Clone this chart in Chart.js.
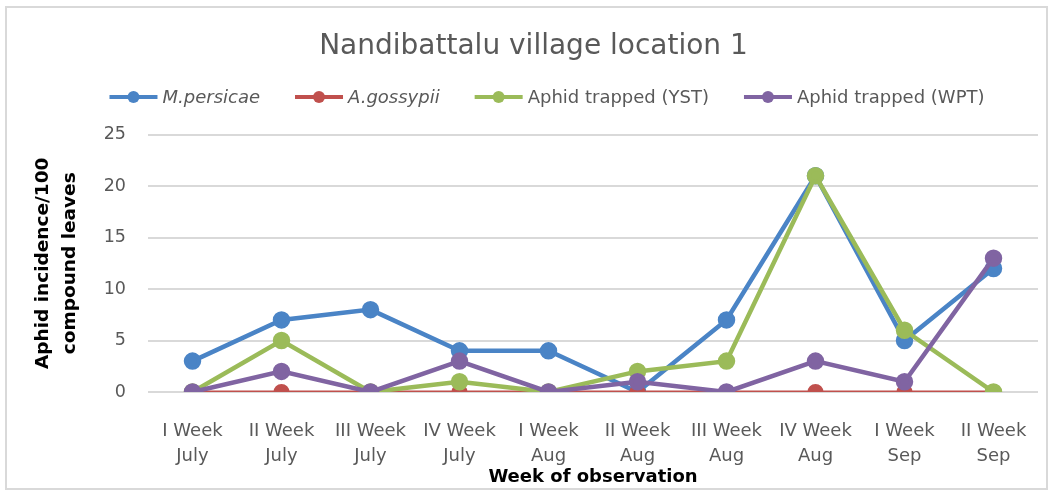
<!DOCTYPE html>
<html>
<head>
<meta charset="utf-8">
<script src="https://cdn.jsdelivr.net/npm/chart.js@4.4.1/dist/chart.umd.min.js"></script>
<style>
  body { margin: 0; background: #fff; }
  canvas { display: block; }
</style>
</head>
<body>
<canvas id="aphidChart" width="1060" height="493"></canvas>
<script>
// data
const weeks = ["I Week", "II Week", "III Week", "IV Week", "I Week", "II Week", "III Week", "IV Week", "I Week", "II Week"];
const months = ["July", "July", "July", "July", "Aug", "Aug", "Aug", "Aug", "Sep", "Sep"];
const mPersicae = [3, 7, 8, 4, 4, 0, 7, 21, 5, 12];
const aGossypii = [0, 0, 0, 0, 0, 0, 0, 0, 0, 0];
const trappedYST = [0, 5, 0, 1, 0, 2, 3, 21, 6, 0];
const trappedWPT = [0, 2, 0, 3, 0, 1, 0, 3, 1, 13];
const yTicks = [0, 5, 10, 15, 20, 25];

const seriesNames = ["M.persicae", "A.gossypii", "Aphid trapped (YST)", "Aphid trapped (WPT)"];
const seriesColors = ["#4a84c6", "#c0504d", "#9bbb59", "#8064a2"];
const italicNames = [true, true, false, false];

const labels = weeks.map((w, i) => [w, months[i]]);

const FONT = "'DejaVu Sans', sans-serif";
const GREY = "#595959";

function series(idx, values, width, order) {
  return {
    label: seriesNames[idx],
    data: values,
    borderColor: seriesColors[idx],
    backgroundColor: seriesColors[idx],
    pointBackgroundColor: seriesColors[idx],
    pointBorderColor: seriesColors[idx],
    borderWidth: width,
    pointRadius: 6.5,
    pointHoverRadius: 6.5,
    tension: 0,
    fill: false,
    order: order
  };
}

// grey frame around the whole chart
const framePlugin = {
  id: 'frame',
  beforeDraw(chart) {
    const ctx = chart.ctx;
    ctx.save();
    ctx.fillStyle = '#fff';
    ctx.fillRect(0, 0, chart.width, chart.height);
    ctx.strokeStyle = '#d9d9d9';
    ctx.lineWidth = 2;
    ctx.strokeRect(6, 7, 1041, 482);
    ctx.restore();
  }
};

// legend with line+marker symbols, species names in italics
const legendPlugin = {
  id: 'lineLegend',
  afterDraw(chart) {
    const ctx = chart.ctx;
    const sym = 48, gap = 5, pad = 35, y = 97, centre = 547;
    ctx.save();
    const widths = seriesNames.map((n, i) => {
      ctx.font = (italicNames[i] ? 'italic ' : '') + '18px ' + FONT;
      return ctx.measureText(n).width;
    });
    let total = widths.reduce((a, w) => a + sym + gap + w, 0) + pad * (seriesNames.length - 1);
    let x = centre - total / 2;
    seriesNames.forEach((n, i) => {
      ctx.strokeStyle = seriesColors[i];
      ctx.fillStyle = seriesColors[i];
      ctx.lineWidth = 4;
      ctx.beginPath();
      ctx.moveTo(x, y);
      ctx.lineTo(x + sym, y);
      ctx.stroke();
      ctx.beginPath();
      ctx.arc(x + sym / 2, y, 6, 0, Math.PI * 2);
      ctx.fill();
      ctx.font = (italicNames[i] ? 'italic ' : '') + '18px ' + FONT;
      ctx.fillStyle = GREY;
      ctx.textBaseline = 'middle';
      ctx.textAlign = 'left';
      ctx.fillText(n, x + sym + gap, y + 1);
      x += sym + gap + widths[i] + pad;
    });
    ctx.restore();
  }
};

new Chart(document.getElementById('aphidChart'), {
  type: 'line',
  data: {
    labels: labels,
    datasets: [
      series(0, mPersicae, 4.5, 4),
      series(1, aGossypii, 3, 3),
      series(2, trappedYST, 4.5, 2),
      series(3, trappedWPT, 4.5, 1)
    ]
  },
  options: {
    responsive: false,
    animation: false,
    layout: {
      padding: { top: 10, left: 29, right: 22, bottom: 2 }
    },
    plugins: {
      legend: { display: false },
      tooltip: { enabled: false },
      title: {
        display: true,
        text: 'Nandibattalu village location 1',
        color: GREY,
        font: { family: FONT, size: 28, weight: 'normal', lineHeight: 1.2 },
        padding: { top: 20, bottom: 71 }
      }
    },
    scales: {
      x: {
        offset: true,
        afterFit(scale) {
          scale.height = 99;
        },
        grid: { display: false, drawTicks: false },
        border: { display: false },
        ticks: {
          color: GREY,
          font: { family: FONT, size: 18, lineHeight: 1.39 },
          padding: 27,
          maxRotation: 0,
          autoSkip: false
        },
        title: {
          display: true,
          text: 'Week of observation',
          color: '#000',
          font: { family: FONT, size: 18, weight: 'bold', lineHeight: 1.2 },
          padding: { top: 0, bottom: 3 }
        }
      },
      y: {
        min: 0,
        max: 25,
        afterBuildTicks(scale) {
          scale.ticks = yTicks.map(v => ({ value: v }));
        },
        afterFit(scale) {
          scale.width = 119;
        },
        grid: { color: '#d9d9d9', lineWidth: 2, drawTicks: false },
        border: { display: false },
        ticks: {
          color: GREY,
          font: { family: FONT, size: 17.5 },
          padding: 22
        },
        title: {
          display: true,
          text: ['Aphid incidence/100', 'compound leaves'],
          color: '#000',
          font: { family: FONT, size: 18.5, weight: 'bold', lineHeight: 1.5 },
          padding: { top: 0, bottom: 20 }
        }
      }
    }
  },
  plugins: [framePlugin, legendPlugin]
});
</script>
</body>
</html>
